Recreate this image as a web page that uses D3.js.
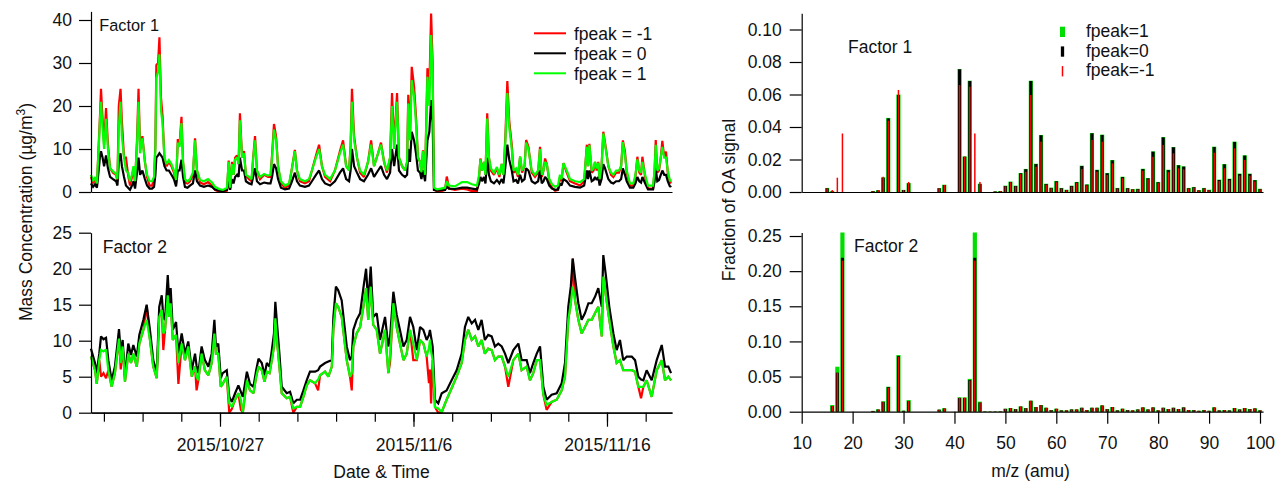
<!DOCTYPE html>
<html>
<head>
<meta charset="utf-8">
<script src="https://cdn.jsdelivr.net/npm/d3@7"></script>
<style>
  body { margin: 0; background: #fff; }
  svg text { font-family: "Liberation Sans", Arial, sans-serif; fill: #111; }
</style>
</head>
<body>
<svg id="chart" width="1278" height="481"></svg>
<script>
// ---------- Time series: days since 2015-10-20 00:00 (UTC) ----------
const f1Days = [0.33,0.44,0.54,0.64,0.75,0.80,0.85,0.93,1.01,1.11,1.21,1.32,1.47,1.63,1.70,1.77,1.86,1.93,2.04,2.14,2.25,2.35,2.45,2.53,2.61,2.71,2.79,2.87,2.99,3.12,3.23,3.36,3.49,3.59,3.66,3.71,3.80,3.87,3.95,4.03,4.13,4.24,4.36,4.49,4.62,4.73,4.82,4.91,5.01,5.09,5.19,5.32,5.45,5.60,5.71,5.81,5.97,6.17,6.38,6.59,6.74,6.95,7.15,7.36,7.45,7.52,7.62,7.70,7.78,7.88,7.96,8.03,8.14,8.24,8.34,8.50,8.63,8.71,8.81,8.91,9.07,9.28,9.48,9.61,9.69,9.79,9.90,10.00,10.15,10.36,10.57,10.72,10.87,10.98,11.13,11.39,11.60,11.75,11.96,12.12,12.27,12.43,12.69,12.94,13.20,13.36,13.52,13.67,13.75,13.82,13.93,14.08,14.24,14.44,14.65,14.81,14.96,15.17,15.32,15.48,15.63,15.79,15.89,16.00,16.15,16.25,16.41,16.56,16.67,16.73,16.82,16.91,17.03,17.13,17.23,17.34,17.41,17.49,17.60,17.72,17.82,17.91,17.99,18.06,18.22,18.42,18.63,18.72,18.84,19.14,19.51,19.77,20.02,20.28,20.39,20.46,20.54,20.64,20.72,20.81,20.90,21.00,21.16,21.31,21.44,21.56,21.65,21.75,21.85,21.95,22.08,22.17,22.30,22.40,22.51,22.61,22.74,22.82,22.94,23.11,23.28,23.44,23.54,23.63,23.72,23.80,23.89,24.02,24.16,24.32,24.47,24.57,24.65,24.75,24.92,25.09,25.35,25.61,25.82,25.96,26.02,26.09,26.21,26.31,26.38,26.47,26.55,26.62,26.72,26.81,26.90,27.07,27.21,27.33,27.47,27.62,27.73,27.82,27.93,28.02,28.19,28.36,28.47,28.57,28.67,28.76,28.83,28.97,29.12,29.38,29.46,29.52,29.60,29.69,29.78,29.86,29.96,30.05,30.14,30.26,30.31];

// Factor 1 mass concentration (µg/m3)
const f1FpeakP1 = [4.0,2.5,3.5,2.0,12.0,17.0,21.0,15.0,10.0,17.0,10.0,5.5,4.8,4.2,3.0,15.0,21.0,13.0,8.0,5.0,4.5,2.5,4.0,6.0,2.5,11.0,21.0,9.0,12.5,7.0,4.0,2.5,2.5,3.5,10.0,26.5,28.0,32.0,19.0,16.0,8.0,6.5,7.4,6.5,5.0,2.8,11.5,10.5,16.0,7.0,3.0,2.4,3.0,4.5,12.0,5.0,2.8,2.5,3.0,2.2,1.2,0.7,0.5,1.0,7.0,1.0,6.5,4.0,7.5,8.0,6.5,16.7,8.0,9.0,4.0,3.5,3.0,7.5,12.0,5.0,3.5,4.2,3.8,4.0,8.0,14.5,12.0,6.0,2.5,1.5,2.0,5.5,9.5,5.0,3.0,2.5,3.0,5.0,8.0,10.0,6.0,4.0,3.0,5.0,9.0,11.0,6.0,5.0,10.0,21.0,12.0,8.0,5.0,4.0,7.0,11.0,6.0,9.0,11.0,7.0,5.0,8.0,20.0,10.0,21.0,8.0,6.0,5.0,7.0,20.6,12.0,26.0,22.2,16.0,8.0,7.0,4.6,9.5,4.0,26.8,20.0,36.5,28.0,1.0,0.6,0.8,1.0,2.5,1.5,1.3,2.3,2.3,1.8,1.5,4.0,7.6,5.0,7.0,4.0,17.1,8.0,5.5,4.5,5.8,4.0,6.5,4.0,12.0,23.0,15.0,10.0,5.0,5.5,4.0,8.2,5.0,6.0,11.5,10.0,5.0,4.0,5.0,10.0,4.0,5.0,7.0,6.5,3.0,1.8,1.2,1.5,4.0,3.0,6.7,5.0,3.0,2.5,2.3,3.0,10.5,6.0,10.9,5.0,5.5,7.0,5.5,6.8,3.0,6.0,13.6,11.0,6.0,4.5,4.0,5.0,5.0,6.0,11.6,8.5,5.0,2.0,2.0,4.0,7.6,5.0,4.5,7.0,4.0,1.5,1.5,5.0,11.0,5.0,5.5,8.0,10.5,8.0,8.0,5.0,2.5,3.0];
const f1Fpeak0 = [2.0,1.2,1.8,1.0,6.0,8.5,9.5,8.0,6.0,8.5,5.5,3.5,3.0,2.5,1.5,7.0,9.0,6.0,3.5,1.5,1.0,0.5,1.5,2.5,0.8,4.5,8.0,4.0,5.0,3.0,1.5,0.8,0.8,1.2,4.0,8.0,8.5,9.0,8.5,8.0,6.0,5.0,5.0,4.0,3.0,1.3,5.0,5.0,7.5,3.5,1.2,1.0,1.5,2.0,5.0,2.5,1.5,1.2,1.5,1.2,0.6,0.3,0.2,0.5,3.0,0.5,3.0,2.0,3.5,4.0,3.5,8.0,5.0,5.0,2.5,2.0,1.8,3.5,5.5,2.5,1.8,2.2,2.0,2.0,3.5,6.5,5.5,3.0,1.0,0.6,0.8,2.5,4.5,2.5,1.5,1.2,1.5,2.5,4.0,5.0,3.0,2.0,1.5,2.5,4.5,5.5,3.0,2.5,5.0,10.0,6.0,4.5,3.0,2.5,4.0,5.5,3.5,5.0,6.0,4.0,3.0,4.5,10.0,6.0,11.0,5.0,4.0,3.5,4.0,10.0,7.0,14.0,12.0,9.0,5.0,4.5,3.0,5.0,2.5,12.0,14.0,21.4,16.0,0.5,0.3,0.4,0.5,1.2,0.8,0.7,1.0,1.0,0.8,0.6,2.0,3.5,2.5,3.5,2.0,8.0,4.0,2.5,2.0,2.8,2.0,3.0,2.0,6.0,11.0,7.5,5.0,2.5,2.8,2.0,4.0,2.5,3.0,5.5,5.0,2.5,2.0,2.5,5.0,2.0,2.5,3.5,3.0,1.5,0.8,0.5,0.6,2.0,1.5,3.0,2.5,1.5,1.2,1.0,1.5,5.0,3.0,5.0,2.5,2.8,3.5,2.8,3.5,1.5,3.0,6.5,5.5,3.0,2.2,2.0,2.5,2.5,3.0,5.5,4.0,2.5,1.0,1.0,2.0,3.5,2.5,2.2,3.5,2.0,0.6,0.6,2.5,5.5,2.5,2.8,4.0,5.0,4.0,4.0,2.5,1.2,1.5];
const f1FpeakM1 = [3.5,2.0,3.0,1.5,13.0,18.0,24.0,17.0,11.0,19.5,11.0,5.5,4.5,4.0,2.5,20.0,24.0,16.5,8.0,8.0,4.0,1.5,3.5,5.5,2.0,12.0,24.0,10.0,13.0,7.0,3.5,1.5,1.5,3.0,11.0,29.5,30.0,36.0,22.0,17.7,7.5,6.0,7.0,6.0,4.5,2.0,12.3,11.0,17.5,7.0,2.2,2.0,2.5,4.0,12.5,5.0,2.2,1.8,2.3,1.5,0.5,0.1,0.0,0.3,7.3,0.5,7.0,4.0,8.0,8.5,6.5,18.3,8.0,9.5,3.8,3.0,2.5,7.8,13.0,5.0,3.0,4.0,3.5,3.5,8.6,15.8,12.9,6.0,2.0,1.0,1.5,5.6,9.8,5.0,2.5,2.0,2.5,5.0,8.5,11.0,6.0,3.5,2.5,5.0,9.5,12.0,6.0,5.0,11.0,24.0,13.0,8.0,4.5,3.5,7.0,12.0,6.0,9.0,11.5,7.0,4.5,8.0,23.0,11.0,23.0,8.0,6.0,5.0,7.0,22.6,13.0,29.1,24.5,17.5,8.0,7.0,4.5,9.7,4.0,28.8,24.0,41.5,30.0,0.5,0.2,0.2,0.5,3.6,0.8,0.5,0.8,0.6,0.2,0.2,3.5,7.8,5.0,7.0,4.0,18.3,8.0,5.0,4.0,5.5,3.5,6.5,4.0,13.0,25.8,16.4,10.9,4.5,5.0,3.5,8.2,4.5,6.0,12.1,10.5,4.5,3.5,4.5,10.5,3.5,5.0,7.8,6.5,2.5,1.0,0.3,0.5,3.5,2.5,6.7,4.5,2.5,2.0,1.5,2.5,11.0,6.0,11.2,4.5,5.0,7.0,5.0,7.0,2.5,6.0,14.0,11.5,6.0,4.0,3.5,4.5,4.5,6.0,12.0,9.4,4.5,1.5,1.5,3.5,8.2,4.5,4.0,8.2,3.5,0.8,0.8,5.0,12.1,4.5,5.0,8.0,11.9,8.0,9.4,4.5,2.0,2.5];

const f2Days = [0.33,0.54,0.63,0.76,0.85,0.98,1.11,1.23,1.40,1.57,1.78,1.87,1.97,2.09,2.26,2.40,2.52,2.70,2.83,3.04,3.21,3.38,3.55,3.73,3.86,3.99,4.07,4.16,4.30,4.38,4.45,4.56,4.73,4.85,5.02,5.19,5.36,5.54,5.71,5.79,5.88,6.05,6.22,6.40,6.57,6.71,6.79,6.91,7.04,7.14,7.35,7.48,7.61,7.78,7.95,8.08,8.18,8.39,8.55,8.73,8.87,8.99,9.16,9.30,9.42,9.56,9.68,9.79,9.86,9.96,10.07,10.19,10.45,10.62,10.79,10.97,11.14,11.31,11.48,11.65,11.91,12.07,12.17,12.43,12.60,12.78,12.86,12.99,13.11,13.29,13.55,13.72,13.81,13.89,14.06,14.24,14.41,14.55,14.66,14.79,14.92,15.10,15.27,15.53,15.70,15.79,15.96,16.13,16.30,16.48,16.65,16.82,16.99,17.17,17.34,17.51,17.68,17.80,17.85,17.91,17.99,18.11,18.28,18.46,18.71,18.97,19.23,19.49,19.66,19.83,20.01,20.18,20.35,20.52,20.69,20.86,21.04,21.21,21.38,21.56,21.73,21.90,22.16,22.42,22.59,22.85,23.02,23.19,23.37,23.54,23.71,23.88,24.14,24.40,24.66,24.83,25.00,25.13,25.23,25.35,25.52,25.69,25.86,26.04,26.21,26.38,26.55,26.73,26.81,26.95,27.12,27.33,27.50,27.67,27.84,28.02,28.28,28.45,28.62,28.76,28.88,29.05,29.31,29.57,29.83,30.00,30.17,30.31];

// Factor 2 mass concentration (µg/m3)
const f2FpeakP1 = [7.8,5.9,4.0,7.3,8.7,8.5,8.8,5.9,3.6,5.5,10.3,6.9,9.2,4.3,8.2,6.9,8.2,6.4,9.6,11.5,12.9,10.1,6.4,4.8,13.3,14.3,11.0,11.5,16.3,13.3,15.2,10.1,10.8,6.9,9.6,7.3,9.2,5.0,6.4,5.0,4.5,8.2,5.9,5.2,6.9,11.0,8.2,8.2,3.6,4.0,5.0,1.3,0.8,1.8,2.7,1.8,0.0,4.5,3.1,2.7,5.0,6.4,5.9,4.3,5.7,5.5,7.3,9.2,13.1,9.6,6.4,2.7,2.0,2.2,0.6,0.8,0.8,2.2,3.8,4.5,4.1,4.6,5.2,5.7,5.0,6.4,11.7,15.2,14.7,13.3,7.3,5.0,5.5,9.2,11.0,11.9,14.7,17.3,12.9,17.5,12.2,11.5,8.2,11.5,5.5,8.0,15.2,11.9,9.6,7.3,8.2,11.5,9.6,7.3,10.1,9.6,7.8,9.0,10.1,8.5,7.3,0.8,0.6,0.1,1.8,3.4,5.0,6.9,10.1,11.5,10.1,10.6,9.2,10.1,8.2,8.9,8.7,7.3,7.8,7.8,6.4,5.0,7.3,8.2,5.9,6.4,4.5,5.5,7.3,7.3,2.5,1.1,1.5,1.8,3.1,5.0,12.9,15.2,17.5,15.6,12.9,11.0,11.9,12.9,12.9,13.8,14.7,10.6,18.9,16.1,12.9,9.2,6.9,7.3,5.9,5.9,5.9,5.7,3.6,3.6,3.6,4.5,2.2,5.9,7.3,4.5,5.0,4.5];
const f2Fpeak0 = [8.9,6.9,5.5,8.2,10.6,10.2,10.4,7.3,4.5,6.4,11.6,8.5,10.1,5.0,9.6,8.0,9.4,7.8,10.8,12.9,15.0,11.5,7.3,5.5,14.7,16.3,13.3,12.9,19.1,15.2,17.3,11.5,12.6,8.2,11.0,8.2,9.9,5.9,8.2,6.5,5.5,9.2,7.3,6.4,8.2,12.9,9.2,9.6,4.8,5.5,5.9,2.2,1.5,2.7,3.8,2.9,2.2,5.7,4.0,3.6,5.9,7.5,6.9,5.2,6.9,6.4,8.7,11.0,15.4,11.9,8.2,3.6,2.7,2.9,1.3,1.8,1.8,3.1,4.5,5.7,5.7,5.9,6.4,6.9,7.1,7.3,13.3,17.5,17.0,15.6,9.2,7.3,7.8,11.5,12.9,13.8,17.3,20.0,15.2,20.3,13.3,13.8,10.1,13.3,9.2,10.5,16.8,13.6,11.5,9.2,10.1,13.3,11.9,8.7,11.9,11.5,10.1,10.8,11.5,10.5,9.2,1.8,1.3,2.7,3.1,4.5,5.9,8.2,11.9,13.3,12.4,12.9,11.5,12.9,10.1,10.8,10.6,9.2,9.6,9.2,8.2,6.9,8.7,9.6,7.3,7.3,5.5,6.9,8.2,9.2,3.6,1.8,2.5,2.7,4.1,6.9,14.7,17.5,21.4,18.7,15.2,12.9,13.8,15.2,15.2,16.1,17.3,14.7,21.9,18.9,14.7,11.0,8.7,10.1,7.3,7.8,7.8,7.3,5.0,4.6,4.5,5.9,4.5,7.3,9.4,6.4,6.4,5.5];
const f2FpeakM1 = [7.8,5.9,4.0,7.3,5.0,5.5,4.8,5.9,3.6,5.5,10.3,6.0,9.2,4.3,8.2,6.9,8.2,6.4,9.6,11.5,14.8,10.1,6.4,4.8,13.3,14.3,8.7,11.5,16.3,13.3,15.2,10.1,10.8,4.0,9.6,7.3,9.2,5.0,6.4,3.1,4.5,8.2,5.9,5.2,6.9,11.0,8.2,8.2,3.6,4.0,5.0,0.0,0.5,1.8,2.7,0.4,0.0,4.5,3.1,2.7,5.0,6.4,5.9,4.3,5.7,5.5,7.3,9.2,13.1,9.6,6.4,2.7,2.0,2.2,0.0,0.8,0.8,2.2,3.8,4.5,4.1,3.1,5.2,5.7,5.0,6.4,11.7,15.2,14.7,13.3,7.3,5.0,3.1,9.2,11.0,11.9,14.7,17.3,12.9,17.5,12.2,11.5,8.2,11.5,5.5,7.0,15.2,11.9,9.6,7.3,8.2,11.5,7.3,7.3,10.1,9.6,7.8,4.1,6.0,1.3,7.3,0.8,0.0,0.1,1.8,3.4,5.0,6.9,10.1,11.5,10.1,10.6,9.2,10.1,8.2,8.9,8.7,7.3,7.8,7.8,6.4,3.6,7.3,8.2,5.9,6.4,4.5,5.5,7.3,7.3,2.5,0.4,1.5,1.8,3.1,5.0,12.9,15.2,21.4,15.6,12.9,11.0,11.9,12.9,12.9,13.8,14.7,10.6,18.9,16.1,12.9,9.2,6.9,7.3,5.9,5.9,5.9,5.7,3.6,2.0,3.6,4.5,2.2,5.9,7.3,4.5,5.0,4.5];

const dateTicks = ["2015-10-27", "2015-11-06", "2015-11-16"];

// ---------- Mass spectra: m/z 12..100, fraction of OA signal ----------
const mzFirst = 12, mzLast = 100;
const mzTicks = [10, 20, 30, 40, 50, 60, 70, 80, 90, 100];

const s1FpeakP1 = [0,0,0,0.0025,0.0005,0,0,0,0,0, 0,0,0.0006,0.0011,0.0090,0.0456,0,0.0600,0.0013,0.0055, 0,0,0,0,0,0.0024,0.0045,0,0,0.0757, 0.0219,0.0685,0,0.0051,0,0,0.0004,0.0006,0.0039,0.0064, 0.0039,0.0117,0.0142,0.0685,0.0174,0.0351,0.0051,0.0027,0.0068,0.0025, 0.0014,0.0039,0.0062,0.0162,0.0047,0.0363,0.0137,0.0353,0.0117,0.0197, 0.0025,0.0094,0.0025,0.0018,0.0020,0.0143,0.0086,0.0250,0.0062,0.0338, 0.0137,0.0277,0.0166,0.0158,0.0025,0.0031,0.0012,0.0025,0.0014,0.0279, 0.0076,0.0172,0.0082,0.0310,0.0113,0.0226,0.0113,0.0074,0.0020];
const s1Fpeak0 = [0,0,0,0.0023,0.0004,0,0,0,0,0, 0,0,0.0005,0.0010,0.0088,0.0453,0,0.0597,0.0012,0.0053, 0,0,0,0,0,0.0023,0.0043,0,0,0.0755, 0.0217,0.0683,0,0.0049,0,0,0.0003,0.0005,0.0037,0.0062, 0.0037,0.0115,0.0140,0.0683,0.0172,0.0349,0.0049,0.0025,0.0066,0.0023, 0.0012,0.0037,0.0060,0.0160,0.0045,0.0361,0.0135,0.0351,0.0115,0.0195, 0.0023,0.0092,0.0023,0.0016,0.0018,0.0141,0.0084,0.0248,0.0060,0.0336, 0.0135,0.0275,0.0164,0.0156,0.0023,0.0029,0.0010,0.0023,0.0012,0.0277, 0.0074,0.0170,0.0080,0.0308,0.0111,0.0224,0.0111,0.0072,0.0018];
const s1FpeakM1 = [0,0,0,0.0022,0.0012,0.0088,0.0360,0,0,0, 0,0,0.0004,0.0012,0.0094,0.0439,0,0.0628,0.0012,0.0062, 0,0,0,0,0,0.0023,0.0043,0,0,0.0658, 0.0217,0.0648,0.0360,0.0062,0,0,0.0003,0.0005,0.0035,0.0060, 0.0035,0.0110,0.0125,0.0597,0.0156,0.0310,0.0045,0.0023,0.0060,0.0021, 0.0011,0.0034,0.0055,0.0141,0.0041,0.0320,0.0125,0.0310,0.0105,0.0176, 0.0021,0.0085,0.0021,0.0015,0.0016,0.0131,0.0078,0.0217,0.0055,0.0290, 0.0122,0.0238,0.0146,0.0140,0.0021,0.0026,0.0009,0.0021,0.0011,0.0242, 0.0068,0.0146,0.0072,0.0269,0.0101,0.0197,0.0100,0.0065,0.0016];

const s2FpeakP1 = [0,0,0,0,0.0095,0.0640,0.2550,0,0,0, 0,0,0.0012,0.0034,0.0148,0.0356,0,0.0806,0.0015,0.0166, 0,0,0,0,0,0.0030,0.0050,0,0,0.0205, 0.0205,0.0467,0.2550,0.0143,0.0006,0.0005,0.0006,0.0007,0.0043,0.0052, 0.0038,0.0076,0.0052,0.0157,0.0067,0.0095,0.0057,0.0024,0.0043,0.0020, 0.0020,0.0033,0.0033,0.0057,0.0024,0.0057,0.0057,0.0090,0.0038,0.0067, 0.0020,0.0043,0.0024,0.0020,0.0033,0.0062,0.0033,0.0062,0.0020,0.0057, 0.0038,0.0057,0.0038,0.0062,0.0024,0.0024,0.0014,0.0024,0.0014,0.0062, 0.0020,0.0024,0.0020,0.0052,0.0033,0.0052,0.0038,0.0048,0.0020];
const s2Fpeak0 = [0,0,0,0,0.0080,0.0555,0.2190,0,0,0, 0,0,0.0010,0.0030,0.0140,0.0350,0,0.0790,0.0012,0.0150, 0,0,0,0,0,0.0028,0.0045,0,0,0.0195, 0.0195,0.0450,0.2190,0.0130,0.0004,0.0003,0.0004,0.0005,0.0040,0.0050, 0.0036,0.0073,0.0050,0.0155,0.0065,0.0092,0.0055,0.0022,0.0041,0.0018, 0.0018,0.0031,0.0031,0.0055,0.0022,0.0055,0.0055,0.0088,0.0036,0.0065, 0.0018,0.0041,0.0022,0.0018,0.0031,0.0060,0.0031,0.0060,0.0018,0.0055, 0.0036,0.0055,0.0036,0.0060,0.0022,0.0022,0.0012,0.0022,0.0012,0.0060, 0.0018,0.0022,0.0018,0.0050,0.0031,0.0050,0.0036,0.0046,0.0018];
const s2FpeakM1 = [0,0,0,0,0.0080,0.0555,0.2150,0,0,0, 0,0,0.0010,0.0030,0.0140,0.0340,0,0.0780,0.0012,0.0150, 0,0,0,0,0,0.0028,0.0045,0,0,0.0200, 0.0200,0.0440,0.2150,0.0130,0.0004,0.0003,0.0004,0.0005,0.0040,0.0050, 0.0036,0.0073,0.0050,0.0155,0.0065,0.0092,0.0055,0.0022,0.0041,0.0018, 0.0018,0.0031,0.0031,0.0055,0.0022,0.0055,0.0055,0.0088,0.0036,0.0065, 0.0018,0.0041,0.0022,0.0018,0.0031,0.0060,0.0031,0.0060,0.0018,0.0055, 0.0036,0.0055,0.0036,0.0060,0.0022,0.0022,0.0012,0.0022,0.0012,0.0060, 0.0018,0.0022,0.0018,0.0050,0.0031,0.0050,0.0036,0.0046,0.0018];

// ---------- Drawing ----------
const svg = d3.select("#chart");
const FONT = "'Liberation Sans', Arial, sans-serif";
const FS = 17.5;
const RED = "#ff0000", BLACK = "#000000", GREEN = "#00ff00", GREEN_BAR = "#00dd00";

const t0 = Date.UTC(2015, 9, 20);
const toDate = d => new Date(t0 + d * 864e5);

// scales
const xTime = d3.scaleUtc().domain([toDate(0.3333), toDate(30.36)]).range([91, 672]);
const yF1 = d3.scaleLinear().domain([0, 42]).range([192, 11.4]);
const yF2 = d3.scaleLinear().domain([0, 25]).range([412.7, 232.7]);
const xMz = d3.scaleLinear().domain([10, 100]).range([801.7, 1260]);
const yS1 = d3.scaleLinear().domain([0, 0.11]).range([192, 13.25]);
const yS2 = d3.scaleLinear().domain([0, 0.255]).range([411.7, 232.5]);

function styleAxis(g) {
  g.attr("font-family", FONT).attr("font-size", FS);
  g.selectAll(".domain").attr("stroke", "#000").attr("stroke-width", 1.2);
  g.selectAll(".tick line").attr("stroke", "#000").attr("stroke-width", 1.2);
  g.selectAll(".tick text").attr("fill", "#111");
  return g;
}

// ----- time series panels -----
function seriesPanel(days, red, black, green, y, yTicks) {
  const line = d3.line()
    .x(d => xTime(toDate(d[0])))
    .y(d => y(d[1]));
  const n = days.length;
  [[red, RED], [black, BLACK], [green, GREEN]].forEach(([vals, col]) => {
    const pts = d3.range(Math.min(n, vals.length)).map(i => [days[i], vals[i]]);
    svg.append("path").datum(pts)
      .attr("d", line)
      .attr("fill", "none")
      .attr("stroke", col)
      .attr("stroke-width", 2.2)
      .attr("stroke-linejoin", "miter")
      .attr("stroke-miterlimit", 2);
  });
  svg.append("g").attr("transform", "translate(91,0)")
    .call(d3.axisLeft(y).tickValues(yTicks).tickSize(12).tickPadding(7).tickSizeOuter(0))
    .call(styleAxis);
}

seriesPanel(f1Days, f1FpeakM1, f1Fpeak0, f1FpeakP1, yF1, [0, 10, 20, 30, 40]);
seriesPanel(f2Days, f2FpeakM1, f2Fpeak0, f2FpeakP1, yF2, [0, 5, 10, 15, 20, 25]);

// top time panel: bare baseline
svg.append("g").attr("transform", `translate(0,${yF1(0)})`)
  .call(d3.axisBottom(xTime).tickValues([]).tickSizeOuter(0))
  .call(styleAxis);

// bottom time panel: minor ticks every 2 days, labelled major ticks
const minorDates = d3.utcDay.range(new Date(Date.UTC(2015, 9, 21)), new Date(Date.UTC(2015, 10, 19)), 2);
svg.append("g").attr("transform", `translate(0,${yF2(0)})`)
  .call(d3.axisBottom(xTime).tickValues(minorDates).tickSize(9).tickFormat("").tickSizeOuter(0))
  .call(styleAxis);
const majorDates = dateTicks.map(s => d3.utcParse("%Y-%m-%d")(s));
svg.append("g").attr("transform", `translate(0,${yF2(0)})`)
  .call(d3.axisBottom(xTime).tickValues(majorDates).tickSize(14).tickPadding(12)
    .tickFormat(d3.utcFormat("%Y/%-m/%-d")).tickSizeOuter(0))
  .call(styleAxis);

// ----- spectra panels -----
const mzList = d3.range(mzFirst, mzLast + 1);
function spectrumPanel(green, black, red, y, yTicks) {
  [[green, GREEN_BAR, 4.2], [black, BLACK, 3.0], [red, RED, 1.5]].forEach(([vals, col, w]) => {
    const bars = mzList.map((m, i) => ({ m, v: vals[i] })).filter(d => d.v > 0);
    svg.append("g").selectAll("rect").data(bars).join("rect")
      .attr("x", d => xMz(d.m) - w / 2)
      .attr("width", w)
      .attr("y", d => y(d.v))
      .attr("height", d => y(0) - y(d.v))
      .attr("fill", col);
  });
  svg.append("g").attr("transform", `translate(${xMz(10)},0)`)
    .call(d3.axisLeft(y).tickValues(yTicks).tickSize(12).tickPadding(8)
      .tickFormat(d3.format(".2f")).tickSizeOuter(0))
    .call(styleAxis);
}

spectrumPanel(s1FpeakP1, s1Fpeak0, s1FpeakM1, yS1, [0, 0.02, 0.04, 0.06, 0.08, 0.10]);
spectrumPanel(s2FpeakP1, s2Fpeak0, s2FpeakM1, yS2, [0, 0.05, 0.10, 0.15, 0.20, 0.25]);

// baselines of spectra panels
const xMzWide = d3.scaleLinear().domain([10, 100.6]).range([xMz(10), xMz(100.6)]);
svg.append("g").attr("transform", `translate(0,${yS1(0)})`)
  .call(d3.axisBottom(xMzWide).tickValues([]).tickSizeOuter(0))
  .call(styleAxis);
svg.append("g").attr("transform", `translate(0,${yS2(0)})`)
  .call(d3.axisBottom(xMzWide).tickValues([]).tickSizeOuter(0))
  .call(styleAxis);
svg.append("g").attr("transform", `translate(0,${yS2(0)})`)
  .call(d3.axisBottom(xMz).tickValues(mzTicks).tickSize(12).tickPadding(13)
    .tickFormat(d3.format("d")).tickSizeOuter(0))
  .call(styleAxis)
  .call(g => g.select(".domain").remove());

// ----- titles and labels -----
function label(x, y, txt, size, anchor) {
  return svg.append("text").attr("x", x).attr("y", y)
    .attr("font-size", size || FS).attr("text-anchor", anchor || "start").text(txt);
}
label(99.3, 31, "Factor 1", 16.3);
label(102.7, 252.7, "Factor 2");
label(848, 53.3, "Factor 1");
label(854, 251.7, "Factor 2");
label(381.5, 478, "Date & Time", FS, "middle");
label(1030.5, 476.5, "m/z (amu)", FS, "middle");

const yTitle = svg.append("text")
  .attr("transform", "translate(31.7,212) rotate(-90)")
  .attr("text-anchor", "middle").attr("font-size", FS);
yTitle.append("tspan").text("Mass Concentration (µg/m");
yTitle.append("tspan").attr("font-size", 12).attr("dy", -7).text("3");
yTitle.append("tspan").attr("dy", 7).text(")");

svg.append("text")
  .attr("transform", "translate(735,200) rotate(-90)")
  .attr("text-anchor", "middle").attr("font-size", FS)
  .text("Fraction of OA signal");

// ----- legends -----
const lineLegend = [["fpeak = -1", RED], ["fpeak = 0", BLACK], ["fpeak = 1", GREEN]];
lineLegend.forEach(([name, col], i) => {
  const yy = 33.3 + i * 20;
  svg.append("line").attr("x1", 534).attr("x2", 566).attr("y1", yy).attr("y2", yy)
    .attr("stroke", col).attr("stroke-width", 2);
  label(574, yy + 6.5, name);
});

const barLegend = [["fpeak=1", GREEN_BAR, 5], ["fpeak=0", BLACK, 3.3], ["fpeak=-1", RED, 1.5]];
barLegend.forEach(([name, col, w], i) => {
  const yb = 37 + i * 19.7;
  svg.append("rect").attr("x", 1062.5 - w / 2).attr("y", yb - 10.3)
    .attr("width", w).attr("height", 10.3).attr("fill", col);
  label(1086, yb, name);
});
</script>
</body>
</html>
